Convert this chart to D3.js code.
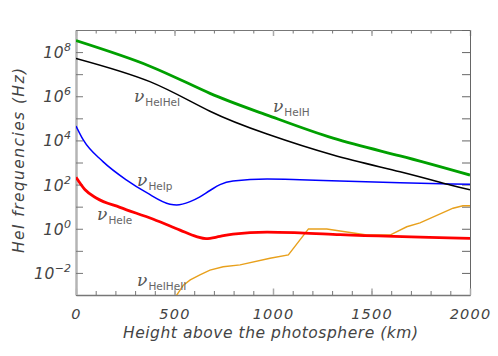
<!DOCTYPE html>
<html>
<head>
<meta charset="utf-8">
<script src="https://cdn.jsdelivr.net/npm/d3@7"></script>
<style>
  body { margin: 0; background: #fff; }
  svg { display: block; }
  .tick-label, .axis-title { font-family: "DejaVu Sans", sans-serif; font-style: italic; fill: #444; }
  .nu { font-family: "DejaVu Serif", serif; font-style: italic; fill: #555; font-size: 17px; }
  .sub { font-family: "DejaVu Sans", sans-serif; font-style: normal; fill: #666; font-size: 10.5px; }
</style>
</head>
<body>
<div id="chart"></div>
<script>
/* DATA */
// nu_HeIH (green)
const heightsHeIH = [0, 375, 680, 970, 1305, 1645, 2000];
const freqHeIH = [3.3e8, 2.3e7, 1.35e6, 1.4e5, 1.26e4, 2.0e3, 270];
// nu_HeIHeI (black)
const heightsHeIHeI = [0, 375, 680, 970, 1305, 1645, 1900, 2000];
const freqHeIHeI = [5.2e7, 4.6e6, 2.1e5, 1.95e4, 2.2e3, 380, 95, 58];
// nu_HeIp (blue)
const heightsHeIp = [0, 37, 137, 257, 359, 477, 511, 579, 629, 680, 731, 797, 970, 1137, 1340, 1645, 2000];
const freqHeIp = [4.5e4, 1.05e4, 1.1e3, 160, 43, 13, 12, 17, 28, 54, 100, 145, 178, 166, 145, 122, 103];
// nu_HeIe (red)
const heightsHeIe = [0, 46, 105, 223, 393, 528, 612, 660, 731, 797, 970, 1137, 1340, 2000];
const freqHeIe = [214, 58, 24, 9.3, 2.7, 0.87, 0.44, 0.355, 0.45, 0.575, 0.71, 0.65, 0.54, 0.37];
// nu_HeIHeII (orange)
const heightsHeIHeII = [500, 545, 580, 629, 680, 747, 833, 985, 1078, 1180, 1273, 1476, 1594, 1679, 1746, 1914, 1964, 2000];
const freqHeIHeII = [7e-4, 2.8e-3, 4.8e-3, 8.1e-3, 0.0135, 0.019, 0.023, 0.046, 0.065, 0.98, 0.98, 0.52, 0.52, 1.23, 1.86, 8.5, 11, 11];

// curve labels
const labelNames = ["HeIHeI", "HeIH", "HeIp", "HeIe", "HeIHeII"];
const labelHeights = [294, 1000, 310, 107, 310];
const labelFreqs = [5.5e5, 1.95e5, 87, 2.5, 2.6e-3];

const xTickLabels = [0, 500, 1000, 1500, 2000];
const yTickExponents = [-2, 0, 2, 4, 6, 8];

/* LAYOUT */
const width = 498, height = 356;
const margin = { top: 30, right: 28, bottom: 61, left: 76 };

const svg = d3.select("#chart").append("svg")
  .attr("width", width)
  .attr("height", height);

const x = d3.scaleLinear().domain([0, 2000]).range([margin.left, width - margin.right]);
const y = d3.scaleLog().domain([1e-3, 1e9]).range([height - margin.bottom, margin.top]);

const decades = d3.range(-3, 10).map(e => Math.pow(10, e));

svg.append("clipPath").attr("id", "plot-clip")
  .append("rect")
  .attr("x", x(0)).attr("y", y(1e9))
  .attr("width", x(2000) - x(0)).attr("height", y(1e-3) - y(1e9));

// top axis: minor + major ticks pointing down
svg.append("g")
  .attr("transform", `translate(0,${y(1e9)})`)
  .call(d3.axisBottom(x).tickValues(d3.range(0, 2001, 100)).tickSize(3.5).tickSizeOuter(0).tickFormat(""))
  .call(g => g.select(".domain").attr("stroke", "#777"))
  .call(g => g.selectAll(".tick line").attr("stroke", "#777"));
svg.append("g")
  .attr("transform", `translate(0,${y(1e9)})`)
  .call(d3.axisBottom(x).tickValues(xTickLabels).tickSize(6).tickSizeOuter(0).tickFormat(""))
  .call(g => g.select(".domain").remove())
  .call(g => g.selectAll(".tick line").attr("stroke", "#aaa").attr("stroke-width", 1.5));

// right axis: decade ticks pointing left
svg.append("g")
  .attr("transform", `translate(${x(2000)},0)`)
  .call(d3.axisLeft(y).tickValues(decades).tickSize(8).tickSizeOuter(0).tickFormat(""))
  .call(g => g.select(".domain").attr("stroke", "#666"))
  .call(g => g.selectAll(".tick line").attr("stroke", "#666"));

// bottom axis: minor ticks pointing up
svg.append("g")
  .attr("transform", `translate(0,${y(1e-3)})`)
  .call(d3.axisBottom(x).tickValues(d3.range(0, 2001, 100)).tickSize(-4).tickSizeOuter(0).tickFormat(""))
  .call(g => g.select(".domain").attr("stroke", "#777").attr("stroke-width", 1.5))
  .call(g => g.selectAll(".tick line").attr("stroke", "#777"));
// bottom axis: labelled ticks
svg.append("g")
  .attr("transform", `translate(0,${y(1e-3)})`)
  .call(d3.axisBottom(x).tickValues(xTickLabels).tickSize(-6.5).tickSizeOuter(0).tickPadding(14).tickFormat(d3.format("d")))
  .call(g => g.select(".domain").remove())
  .call(g => g.selectAll(".tick line").attr("stroke", "#aaa").attr("stroke-width", 1.5))
  .call(g => g.selectAll(".tick text")
    .attr("class", "tick-label")
    .attr("font-size", 14.5)
    .attr("letter-spacing", 1.2)
    .attr("font-family", null));

// left axis: decade ticks pointing right, labels 10^n
svg.append("g")
  .attr("transform", `translate(${x(0)},0)`)
  .call(d3.axisLeft(y).tickValues(decades).tickSize(-7).tickSizeOuter(0).tickFormat(""))
  .call(g => g.select(".domain").attr("stroke", "#b4b4b4").attr("stroke-width", 2.5))
  .call(g => g.selectAll(".tick line").attr("stroke", "#777"))
  .call(g => g.selectAll(".tick text").remove());

svg.append("g")
  .selectAll("text")
  .data(yTickExponents)
  .join("text")
  .attr("class", "tick-label")
  .attr("text-anchor", "end")
  .attr("x", x(0) - 5)
  .attr("y", d => y(Math.pow(10, d)) + 6)
  .each(function (d) {
    const t = d3.select(this);
    t.append("tspan").attr("font-size", 15.5).attr("letter-spacing", 0.5).text("10");
    t.append("tspan").attr("font-size", 11).attr("dy", -7).text(d < 0 ? "\u2212" + Math.abs(d) : d);
  });

// axis titles
svg.append("text")
  .attr("class", "axis-title")
  .attr("x", 123).attr("y", 338)
  .attr("font-size", 15.5)
  .attr("textLength", 295)
  .attr("lengthAdjust", "spacing")
  .text("Height above the photosphere (km)");

svg.append("text")
  .attr("class", "axis-title")
  .attr("transform", "translate(24,253) rotate(-90)")
  .attr("font-size", 15.5)
  .attr("textLength", 185)
  .attr("lengthAdjust", "spacing")
  .text("HeI frequencies (Hz)");

/* CURVES */
const natural = d3.line().x(d => x(d[0])).y(d => y(d[1])).curve(d3.curveNatural);
const smooth = d3.line().x(d => x(d[0])).y(d => y(d[1])).curve(d3.curveMonotoneX);
const straight = d3.line().x(d => x(d[0])).y(d => y(d[1]));

const plot = svg.append("g").attr("clip-path", "url(#plot-clip)");

function series(hs, vs) { return hs.map((h, i) => [h, vs[i]]); }

plot.append("path").datum(series(heightsHeIHeII, freqHeIHeII))
  .attr("d", straight).attr("fill", "none").attr("stroke", "#e8a01c").attr("stroke-width", 1.4);
plot.append("path").datum(series(heightsHeIe, freqHeIe))
  .attr("d", smooth).attr("fill", "none").attr("stroke", "#ff0000").attr("stroke-width", 2.8);
plot.append("path").datum(series(heightsHeIp, freqHeIp))
  .attr("d", smooth).attr("fill", "none").attr("stroke", "#0000ff").attr("stroke-width", 1.5);
plot.append("path").datum(series(heightsHeIHeI, freqHeIHeI))
  .attr("d", natural).attr("fill", "none").attr("stroke", "#000").attr("stroke-width", 1.5);
plot.append("path").datum(series(heightsHeIH, freqHeIH))
  .attr("d", natural).attr("fill", "none").attr("stroke", "#00a000").attr("stroke-width", 2.8);

/* LABELS */
svg.append("g")
  .selectAll("text")
  .data(labelNames)
  .join("text")
  .attr("x", (d, i) => x(labelHeights[i]))
  .attr("y", (d, i) => y(labelFreqs[i]))
  .each(function (d) {
    const t = d3.select(this);
    t.append("tspan").attr("class", "nu").text("\u03bd");
    t.append("tspan").attr("class", "sub").attr("dx", 1).attr("dy", 4).text(d);
  });
</script>
</body>
</html>
